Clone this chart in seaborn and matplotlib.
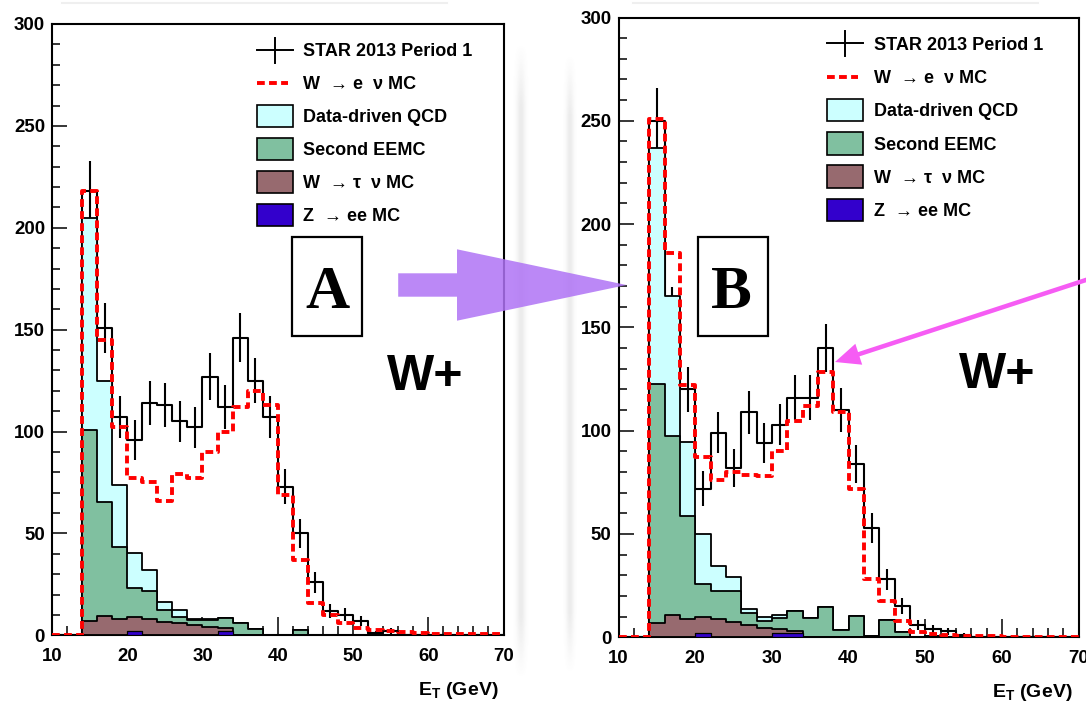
import numpy as np
import pandas as pd
import matplotlib
matplotlib.use("Agg")
import matplotlib.pyplot as plt
import seaborn as sns
from matplotlib.patches import Rectangle, Polygon, FancyArrow
from matplotlib.ticker import MultipleLocator

plt.rcParams['font.family'] = ['Liberation Sans', 'DejaVu Sans']
plt.rcParams['mathtext.fontset'] = 'custom'
plt.rcParams['mathtext.rm'] = 'Liberation Sans:bold'
plt.rcParams['mathtext.bf'] = 'Liberation Sans:bold'

# ---------------- data (2 GeV bins from 10 to 70 GeV) ----------------
bin_edges = list(range(10, 72, 2))
x_ticks = [10, 20, 30, 40, 50, 60, 70]
y_ticks = [0, 50, 100, 150, 200, 250, 300]

legend_labels = ['STAR 2013 Period 1', 'W  \u2192 e  \u03bd MC', 'Data-driven QCD',
                 'Second EEMC', 'W  \u2192 \u03c4  \u03bd MC', 'Z  \u2192 ee MC']

# Panel A
data_A = [0, 0, 218, 151, 107, 96, 114, 113, 105, 102, 127, 112, 146, 125, 107,
          73, 50, 26, 12, 10, 7, 1, 2, 0, 0, 0, 0, 0, 0, 0]
err_A = [0, 0, 14.8, 12.3, 10.3, 9.8, 10.7, 10.6, 10.2, 10.1, 11.3, 10.6, 12.1, 11.2, 10.3,
         8.5, 7.1, 5.1, 3.5, 3.2, 2.6, 1.0, 1.4, 0, 0, 0, 0, 0, 0, 0]
wenu_A = [0, 0, 218, 145, 102, 77, 75, 66, 79, 77, 90, 100, 112, 120, 113,
          69, 37, 16, 10, 6, 3.5, 2.5, 2, 1.5, 1, 0.8, 0.6, 0.5, 0.5, 0.5]
zee_A = [0, 0, 0, 0, 0, 2.0, 0, 0, 0, 0, 0, 2.0, 0, 0, 0,
         0, 0, 0, 0, 0, 0, 0, 0, 0, 0, 0, 0, 0, 0, 0]
wtau_A = [0, 0, 7.0, 9.5, 8.2, 7.0, 8.0, 6.7, 5.9, 5.1, 4.3, 1.5, 0, 0, 0,
          0, 0, 0, 0, 0, 0, 0, 0, 0, 0, 0, 0, 0, 0, 0]
eemc_A = [0, 0, 93.7, 56.1, 35.3, 14.3, 13.5, 5.7, 3.1, 2.3, 3.1, 5.1, 5.8, 3.2, 0,
          0, 2.7, 0, 0, 0, 0, 0, 0, 0, 0, 0, 0, 0, 0, 0]
qcd_A = [0, 0, 104.3, 59.4, 30.3, 16.9, 10.5, 3.8, 3.4, 0.8, 0.4, 0, 0, 0, 0,
         0, 0, 0, 0, 0, 0, 0, 0, 0, 0, 0, 0, 0, 0, 0]

# Panel B
data_B = [0, 0, 250, 157, 120, 72, 99, 82, 109, 94, 103, 116, 116, 140, 110,
          84, 53, 28, 15, 6, 4, 3, 1, 0, 0, 0, 0, 0, 0, 0]
err_B = [0, 0, 15.8, 12.5, 11.0, 8.5, 9.9, 9.1, 10.4, 9.7, 10.1, 10.8, 10.8, 11.8, 10.5,
         9.2, 7.3, 5.3, 3.9, 2.4, 2.0, 1.7, 1.0, 0, 0, 0, 0, 0, 0, 0]
wenu_B = [0, 0, 251, 186, 122, 87.5, 76, 80, 78.6, 78.3, 90, 104.5, 112, 128.5, 109,
          72, 28.4, 17.8, 8.1, 2.8, 1.6, 1.0, 0.8, 0.5, 0.4, 0.3, 0.3, 0.3, 0.3, 0.3]
zee_B = [0, 0, 0, 0, 0, 2.0, 0, 0, 0, 0, 2.0, 2.0, 0, 0, 0,
         0, 0, 0, 0, 0, 0, 0, 0, 0, 0, 0, 0, 0, 0, 0]
wtau_B = [0, 0, 6.8, 10.8, 8.9, 7.7, 8.9, 7.4, 5.8, 4.4, 2.2, 1.1, 0, 0, 0,
          0, 0, 0, 0, 0, 0, 0, 0, 0, 0, 0, 0, 0, 0, 0]
eemc_B = [0, 0, 115.6, 86.4, 49.9, 16.3, 13.3, 14.8, 5.8, 3.6, 5.0, 9.8, 9.2, 14.5, 3.5,
          10.3, 0.5, 8.4, 2.7, 0, 0.8, 0, 0, 0, 0, 0, 0, 0, 0, 0]
qcd_B = [0, 0, 114.2, 67.8, 35.7, 23.8, 12.2, 7.0, 1.9, 1.7, 1.6, 0, 0, 0, 0,
         0, 0, 0, 0, 0, 0, 0, 0, 0, 0, 0, 0, 0, 0, 0]

# ---------------- styling ----------------
C_QCD = '#CCFFFF'
C_EEMC = '#80C0A0'
C_TAU = '#976A6F'
C_ZEE = '#3300CC'
RED_DASH = (0, (2.0, 1.1))

W, H = 1086, 705
fig = plt.figure(figsize=(W / 100, H / 100), dpi=100)
fig.patch.set_facecolor('white')


def px_axes(l, t, r, b, **kw):
    return fig.add_axes([l / W, 1 - b / H, (r - l) / W, (b - t) / H], **kw)


def draw_panel(ax, data, err, wenu, zee, wtau, eemc, qcd):
    centers = np.array(bin_edges[:-1], float) + 1
    comps = np.array([zee, wtau, eemc, qcd], float)
    levels = np.cumsum(comps, axis=0)
    df = pd.DataFrame({'et': centers, 'data': np.asarray(data, float),
                       'err': np.asarray(err, float), 'wenu': np.asarray(wenu, float),
                       'lvl0': levels[0], 'lvl1': levels[1], 'lvl2': levels[2],
                       'lvl3': levels[3]})
    # data histogram line + error bars (drawn first, stack covers it)
    sns.histplot(data=df, x='et', weights='data', bins=bin_edges, element='step',
                 fill=False, color='black', linewidth=1.5, zorder=2.0, ax=ax)
    d = df[df['data'] > 0]
    ax.errorbar(d['et'], d['data'], yerr=d['err'], fmt='none', ecolor='black',
                elinewidth=1.5, capsize=0, zorder=2.0)
    # stacked backgrounds, drawn as cumulative filled histograms (top first)
    colors = [C_ZEE, C_TAU, C_EEMC, C_QCD]
    lws = [0.9, 1.3, 1.3, 1.3]
    for k in range(3, -1, -1):
        sns.histplot(data=df, x='et', weights=f'lvl{k}', bins=bin_edges, element='step',
                     fill=True, color=colors[k], alpha=1, edgecolor='black',
                     linewidth=lws[k], zorder=2.1 + 0.1 * (3 - k), ax=ax)
    # W -> e nu MC
    sns.histplot(data=df, x='et', weights='wenu', bins=bin_edges, element='step',
                 fill=False, color='red', linewidth=2.8, linestyle=RED_DASH,
                 zorder=2.8, ax=ax)

    ax.set_xlim(10, 70)
    ax.set_ylim(0, 300)
    ax.set_xlabel('')
    ax.set_ylabel('')
    ax.set_xticks(x_ticks)
    ax.set_yticks(y_ticks)
    ax.xaxis.set_minor_locator(MultipleLocator(2))
    ax.yaxis.set_minor_locator(MultipleLocator(10))
    ax.tick_params(axis='both', which='both', direction='in', top=False, right=False,
                   width=1.1, colors='black')
    ax.tick_params(axis='x', which='major', length=13, pad=9, labelsize=13.4)
    ax.tick_params(axis='x', which='minor', length=6.5)
    ax.tick_params(axis='y', which='major', length=10.8, pad=5, labelsize=13.4)
    ax.tick_params(axis='y', which='minor', length=5.4)
    for lab in ax.get_xticklabels() + ax.get_yticklabels():
        lab.set_fontweight('bold')
    for s in ax.spines.values():
        s.set_linewidth(1.5)
        s.set_color('black')
        s.set_zorder(1.9)
    ax.set_facecolor('white')


axA = px_axes(52, 24, 503.5, 635.3)
axB = px_axes(618.5, 17.5, 1078.5, 637.3)
draw_panel(axA, data_A, err_A, wenu_A, zee_A, wtau_A, eemc_A, qcd_A)
draw_panel(axB, data_B, err_B, wenu_B, zee_B, wtau_B, eemc_B, qcd_B)

# ---------------- overlay (pixel coordinates) ----------------
ov = px_axes(0, 0, W, H, zorder=10)
ov.axis('off')


def vshadow(xc, y0, y1, w, a=0.14):
    n = 48
    xs = np.linspace(-1, 1, n)
    prof = np.exp(-(xs * 1.8) ** 2)
    ys = np.linspace(0, 1, 300)
    vf = np.clip(np.minimum(ys, 1 - ys) / 0.1, 0, 1)
    img = np.zeros((300, n, 4))
    img[..., :3] = 0.45
    img[..., 3] = a * np.outer(vf, prof)
    ov.imshow(img, extent=(xc - w / 2, xc + w / 2, y1, y0), aspect='auto',
              interpolation='bilinear', zorder=0)


vshadow(521, 43, 679, 16)
vshadow(570, 54, 674, 14)
ov.plot([62, 447], [3.3, 3.3], color='#efefef', lw=1.5, zorder=0.5)
ov.plot([633, 1038], [3.0, 3.0], color='#efefef', lw=1.5, zorder=0.5)


def legend(x0, x1, tx, rows):
    xm = (x0 + x1) / 2
    y = rows[0]
    ov.plot([x0, x1], [y, y], color='black', lw=1.4, zorder=5)
    ov.plot([xm, xm], [y - 12.5, y + 12.5], color='black', lw=1.4, zorder=5)
    y = rows[1]
    ov.plot([x0, x1 - 5], [y, y], color='red', lw=2.8, linestyle=RED_DASH, zorder=5)
    for i, c in zip(range(2, 6), [C_QCD, C_EEMC, C_TAU, C_ZEE]):
        y = rows[i]
        ov.add_patch(Rectangle((x0, y - 11.3), x1 - x0, 22.7, facecolor=c,
                               edgecolor='black', lw=1.2, zorder=5))
    for y, lab in zip(rows, legend_labels):
        ov.text(tx, y + 6.4, lab, fontsize=13, fontweight='bold', ha='left',
                va='baseline', zorder=6)


legend(256.7, 293.3, 303.3, [50, 82.5, 116, 149, 182, 215])
legend(827, 863, 873.7, [43.3, 76.7, 110, 143.3, 176.7, 210])

# A / B boxes
for (bx, letter, lx) in [(292, 'A', 328), (697.8, 'B', 731)]:
    ov.add_patch(Rectangle((bx, 236.7), 70, 99.3, facecolor='white', edgecolor='black',
                           lw=1.6, zorder=5))
    ov.text(lx, 308.3, letter, fontsize=44, fontweight='bold', family='Liberation Serif',
            ha='center', va='baseline', zorder=6)

# W+ labels
ov.text(387, 390.3, 'W+', fontsize=36, fontweight='bold', ha='left', va='baseline', zorder=6)
ov.text(959, 388.3, 'W+', fontsize=36, fontweight='bold', ha='left', va='baseline', zorder=6)

# axis titles
ov.text(498.3, 695, r'E$_{\mathrm{T}}$ (GeV)', fontsize=14, fontweight='bold',
        ha='right', va='baseline', zorder=6)
ov.text(1073, 697, r'E$_{\mathrm{T}}$ (GeV)', fontsize=14, fontweight='bold',
        ha='right', va='baseline', zorder=6)

# purple arrow A -> B
ov.add_patch(Polygon([(398.2, 273.3), (457, 273.3), (457, 249.3), (626.5, 285),
                      (457, 320.7), (457, 296.7), (398.2, 296.7)], closed=True,
                     facecolor='#AF73F5', edgecolor='none', alpha=0.85, zorder=7))

# magenta arrow pointing at the 37 GeV bin of B
ov.add_patch(FancyArrow(1092, 278, 835 - 1092, 362 - 278, width=4.5, head_width=22,
                        head_length=25, length_includes_head=True,
                        facecolor='#F65CF4', edgecolor='none', zorder=7))

ov.set_xlim(0, W)
ov.set_ylim(H, 0)

fig.savefig('out.png', dpi=100)
